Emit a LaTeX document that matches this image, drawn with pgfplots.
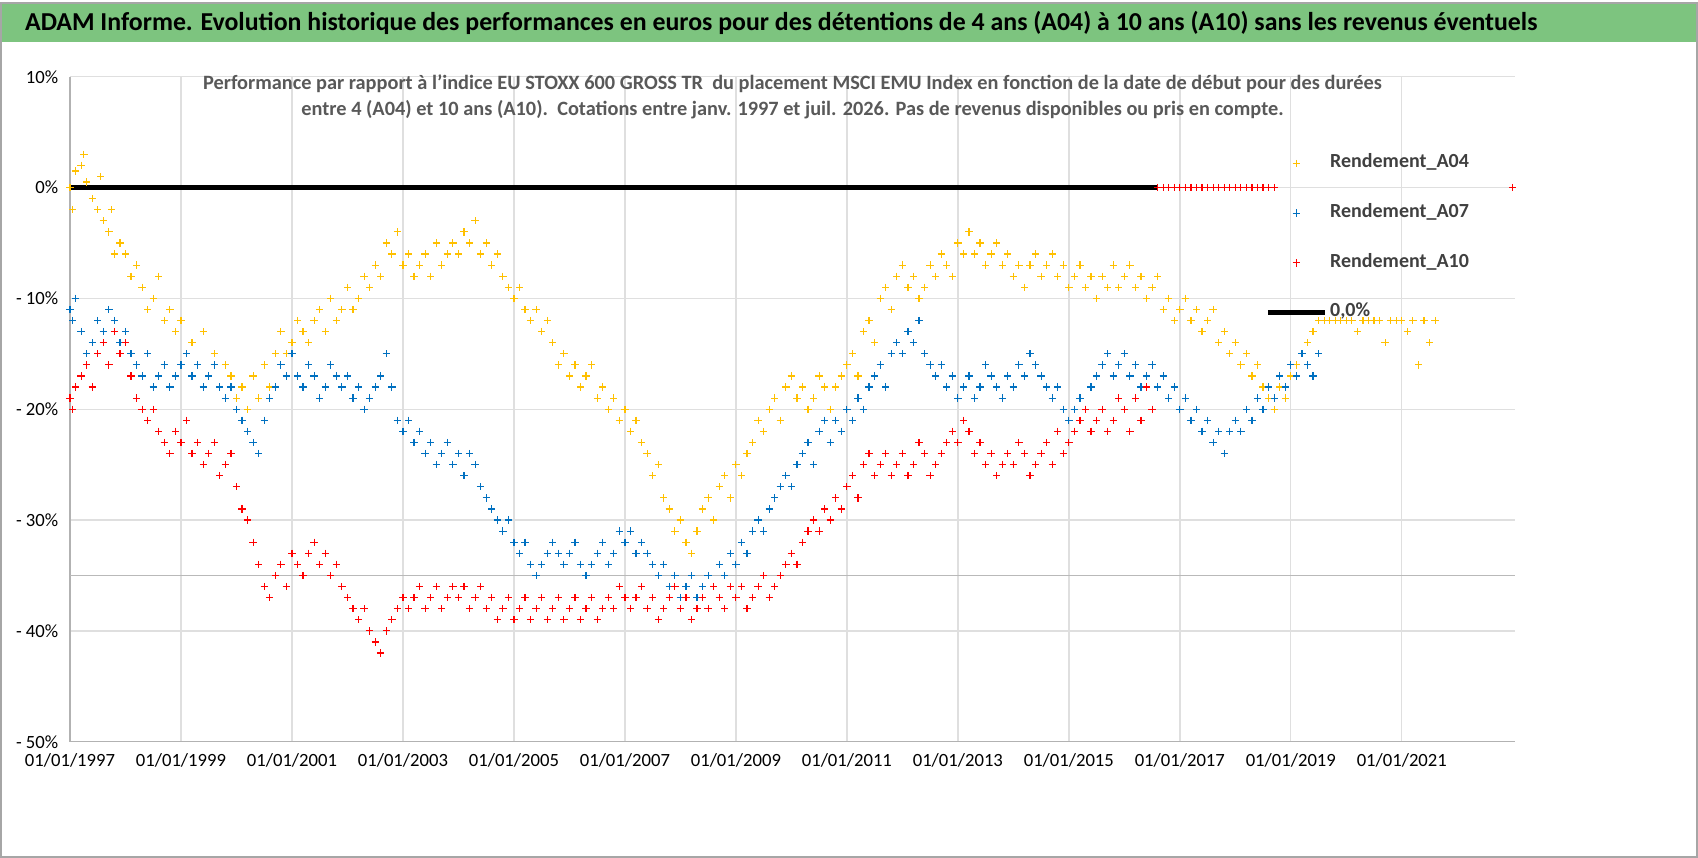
\documentclass[border=0pt]{standalone}
\usepackage{pgfplots}
\pgfplotsset{compat=1.18}
\usepackage{fontspec}
\setmainfont{Carlito}
\definecolor{cy}{HTML}{FFC000}
\definecolor{cb}{HTML}{0070C0}
\definecolor{cr}{HTML}{FF0000}
\definecolor{bar}{HTML}{7DC47F}
\begin{document}
\begin{tikzpicture}
\fill[white] (0pt,0pt) rectangle (509.4pt,256.8pt);
\draw[gray!70,line width=0.6pt] (0.3pt,0.3pt) rectangle (509.1pt,256.5pt);
\fill[bar] (0.6pt,244.8pt) rectangle (508.8pt,256.2pt);
\node[font=\fontsize{7.75}{9}\selectfont\bfseries,anchor=west] at (4pt,250.5pt) {ADAM Informe. Evolution historique des performances en euros pour des détentions de 4 ans (A04) à 10 ans (A10) sans les revenus éventuels};
\begin{axis}[at={(21pt,34.8pt)},anchor=south west,scale only axis,width=433.5pt,height=199.5pt,
 xmin=1997,xmax=2023.04,ymin=-50,ymax=10,
 axis line style={gray!60},
 axis x line*=bottom, axis y line*=left,
 tick style={draw=none},
 xtick={1997,1999,2001,2003,2005,2007,2009,2011,2013,2015,2017,2019,2021},
 xticklabels={01/01/1997,01/01/1999,01/01/2001,01/01/2003,01/01/2005,01/01/2007,01/01/2009,01/01/2011,01/01/2013,01/01/2015,01/01/2017,01/01/2019,01/01/2021},
 ytick={-50,-40,-30,-20,-10,0,10},
 yticklabels={- 50\%,- 40\%,- 30\%,- 20\%,- 10\%,0\%,10\%},
 ticklabel style={font=\fontsize{5.6}{6}\selectfont},
 /pgf/number format/assume math mode=true,
 grid=major, grid style={gray!25,line width=0.4pt},
 legend style={draw=none,fill=none,at={(0.82,0.905)},anchor=north west,font=\fontsize{6}{7}\selectfont\bfseries,row sep=5.2pt,text=black!75,nodes={inner xsep=1pt}},
 legend cell align=left,
 title style={at={(0.5,0.99)},anchor=north,font=\fontsize{6.1}{7.6}\selectfont\bfseries,text=black!65,align=center},
 title={Performance par rapport à l'indice EU STOXX 600 GROSS TR\ \ du placement MSCI EMU Index en fonction de la date de début pour des durées\\entre 4 (A04) et 10 ans (A10).\ \ Cotations entre janv. 1997 et juil. 2026. Pas de revenus disponibles ou pris en compte.},
 clip=false]
\draw[gray!55,line width=0.5pt] (axis cs:1997,-35) -- (axis cs:2023.04,-35);
\addplot[only marks,mark=+,mark size=1.1pt,color=cy,line width=0.35pt] coordinates {
(1997.0,0)(1997.05,-2)(1997.1,1.5)(1997.2,2)(1997.25,3)(1997.3,0.5)(1997.4,-1)(1997.5,-2)(1997.55,1)(1997.6,-3)(1997.7,-4)(1997.75,-2)(1997.8,-6)(1997.9,-5)(1998.0,-6)(1998.1,-8)(1998.2,-7)(1998.3,-9)(1998.4,-11)(1998.5,-10)(1998.6,-8)(1998.7,-12)(1998.8,-11)(1998.9,-13)(1999.0,-12)(1999.1,-15)(1999.2,-14)(1999.3,-16)(1999.4,-13)(1999.5,-17)(1999.6,-15)(1999.7,-18)(1999.8,-16)(1999.9,-17)(2000.0,-19)(2000.1,-18)(2000.2,-20)(2000.3,-17)(2000.4,-19)(2000.5,-16)(2000.6,-18)(2000.7,-15)(2000.8,-13)(2000.9,-15)(2001.0,-14)(2001.1,-12)(2001.2,-13)(2001.3,-14)(2001.4,-12)(2001.5,-11)(2001.6,-13)(2001.7,-10)(2001.8,-12)(2001.9,-11)(2002.0,-9)(2002.1,-11)(2002.2,-10)(2002.3,-8)(2002.4,-9)(2002.5,-7)(2002.6,-8)(2002.7,-5)(2002.8,-6)(2002.9,-4)(2003.0,-7)(2003.1,-6)(2003.2,-8)(2003.3,-7)(2003.4,-6)(2003.5,-8)(2003.6,-5)(2003.7,-7)(2003.8,-6)(2003.9,-5)(2004.0,-6)(2004.1,-4)(2004.2,-5)(2004.3,-3)(2004.4,-6)(2004.5,-5)(2004.6,-7)(2004.7,-6)(2004.8,-8)(2004.9,-9)(2005.0,-10)(2005.1,-9)(2005.2,-11)(2005.3,-12)(2005.4,-11)(2005.5,-13)(2005.6,-12)(2005.7,-14)(2005.8,-16)(2005.9,-15)(2006.0,-17)(2006.1,-16)(2006.2,-18)(2006.3,-17)(2006.4,-16)(2006.5,-19)(2006.6,-18)(2006.7,-20)(2006.8,-19)(2006.9,-21)(2007.0,-20)(2007.1,-22)(2007.2,-21)(2007.3,-23)(2007.4,-24)(2007.5,-26)(2007.6,-25)(2007.7,-28)(2007.8,-29)(2007.9,-31)(2008.0,-30)(2008.1,-32)(2008.2,-33)(2008.3,-31)(2008.4,-29)(2008.5,-28)(2008.6,-30)(2008.7,-27)(2008.8,-26)(2008.9,-28)(2009.0,-25)(2009.1,-26)(2009.2,-24)(2009.3,-23)(2009.4,-21)(2009.5,-22)(2009.6,-20)(2009.7,-19)(2009.8,-21)(2009.9,-18)(2010.0,-17)(2010.1,-19)(2010.2,-18)(2010.3,-20)(2010.4,-19)(2010.5,-17)(2010.6,-18)(2010.7,-20)(2010.8,-18)(2010.9,-17)(2011.0,-16)(2011.1,-15)(2011.2,-17)(2011.3,-13)(2011.4,-12)(2011.5,-14)(2011.6,-10)(2011.7,-9)(2011.8,-11)(2011.9,-8)(2012.0,-7)(2012.1,-9)(2012.2,-8)(2012.3,-10)(2012.4,-9)(2012.5,-7)(2012.6,-8)(2012.7,-6)(2012.8,-7)(2012.9,-8)(2013.0,-5)(2013.1,-6)(2013.2,-4)(2013.3,-6)(2013.4,-5)(2013.5,-7)(2013.6,-6)(2013.7,-5)(2013.8,-7)(2013.9,-6)(2014.0,-8)(2014.1,-7)(2014.2,-9)(2014.3,-7)(2014.4,-6)(2014.5,-8)(2014.6,-7)(2014.7,-6)(2014.8,-8)(2014.9,-7)(2015.0,-9)(2015.1,-8)(2015.2,-7)(2015.3,-9)(2015.4,-8)(2015.5,-10)(2015.6,-8)(2015.7,-9)(2015.8,-7)(2015.9,-9)(2016.0,-8)(2016.1,-7)(2016.2,-9)(2016.3,-8)(2016.4,-10)(2016.5,-9)(2016.6,-8)(2016.7,-11)(2016.8,-10)(2016.9,-12)(2017.0,-11)(2017.1,-10)(2017.2,-12)(2017.3,-11)(2017.4,-13)(2017.5,-12)(2017.6,-11)(2017.7,-14)(2017.8,-13)(2017.9,-15)(2018.0,-14)(2018.1,-16)(2018.2,-15)(2018.3,-17)(2018.4,-16)(2018.5,-18)(2018.6,-19)(2018.7,-20)(2018.8,-18)(2018.9,-19)(2019.0,-17)(2019.1,-16)(2019.2,-15)(2019.3,-14)(2019.4,-13)(2019.5,-12)(2019.6,-12)(2019.7,-12)(2019.8,-12)(2019.9,-12)(2020.0,-12)(2020.1,-12)(2020.2,-13)(2020.3,-12)(2020.4,-12)(2020.5,-12)(2020.6,-12)(2020.7,-14)(2020.8,-12)(2020.9,-12)(2021.0,-12)(2021.1,-13)(2021.2,-12)(2021.3,-16)(2021.4,-12)(2021.5,-14)(2021.6,-12)
};
\addlegendentry{Rendement\_A04}
\addplot[only marks,mark=+,mark size=1.1pt,color=cb,line width=0.35pt] coordinates {
(1997.0,-11)(1997.05,-12)(1997.1,-10)(1997.2,-13)(1997.3,-15)(1997.4,-14)(1997.5,-12)(1997.6,-13)(1997.7,-11)(1997.8,-12)(1997.9,-14)(1998.0,-13)(1998.1,-15)(1998.2,-16)(1998.3,-17)(1998.4,-15)(1998.5,-18)(1998.6,-17)(1998.7,-16)(1998.8,-18)(1998.9,-17)(1999.0,-16)(1999.1,-15)(1999.2,-17)(1999.3,-16)(1999.4,-18)(1999.5,-17)(1999.6,-16)(1999.7,-18)(1999.8,-19)(1999.9,-18)(2000.0,-20)(2000.1,-21)(2000.2,-22)(2000.3,-23)(2000.4,-24)(2000.5,-21)(2000.6,-19)(2000.7,-18)(2000.8,-16)(2000.9,-17)(2001.0,-15)(2001.1,-17)(2001.2,-18)(2001.3,-16)(2001.4,-17)(2001.5,-19)(2001.6,-18)(2001.7,-16)(2001.8,-17)(2001.9,-18)(2002.0,-17)(2002.1,-19)(2002.2,-18)(2002.3,-20)(2002.4,-19)(2002.5,-18)(2002.6,-17)(2002.7,-15)(2002.8,-18)(2002.9,-21)(2003.0,-22)(2003.1,-21)(2003.2,-23)(2003.3,-22)(2003.4,-24)(2003.5,-23)(2003.6,-25)(2003.7,-24)(2003.8,-23)(2003.9,-25)(2004.0,-24)(2004.1,-26)(2004.2,-24)(2004.3,-25)(2004.4,-27)(2004.5,-28)(2004.6,-29)(2004.7,-30)(2004.8,-31)(2004.9,-30)(2005.0,-32)(2005.1,-33)(2005.2,-32)(2005.3,-34)(2005.4,-35)(2005.5,-34)(2005.6,-33)(2005.7,-32)(2005.8,-33)(2005.9,-34)(2006.0,-33)(2006.1,-32)(2006.2,-34)(2006.3,-35)(2006.4,-34)(2006.5,-33)(2006.6,-32)(2006.7,-34)(2006.8,-33)(2006.9,-31)(2007.0,-32)(2007.1,-31)(2007.2,-33)(2007.3,-32)(2007.4,-33)(2007.5,-34)(2007.6,-35)(2007.7,-34)(2007.8,-36)(2007.9,-35)(2008.0,-37)(2008.1,-36)(2008.2,-35)(2008.3,-37)(2008.4,-36)(2008.5,-35)(2008.6,-36)(2008.7,-34)(2008.8,-35)(2008.9,-33)(2009.0,-34)(2009.1,-32)(2009.2,-33)(2009.3,-31)(2009.4,-30)(2009.5,-31)(2009.6,-29)(2009.7,-28)(2009.8,-27)(2009.9,-26)(2010.0,-27)(2010.1,-25)(2010.2,-24)(2010.3,-23)(2010.4,-25)(2010.5,-22)(2010.6,-21)(2010.7,-23)(2010.8,-21)(2010.9,-22)(2011.0,-20)(2011.1,-21)(2011.2,-19)(2011.3,-20)(2011.4,-18)(2011.5,-17)(2011.6,-16)(2011.7,-18)(2011.8,-15)(2011.9,-14)(2012.0,-15)(2012.1,-13)(2012.2,-14)(2012.3,-12)(2012.4,-15)(2012.5,-16)(2012.6,-17)(2012.7,-16)(2012.8,-18)(2012.9,-17)(2013.0,-19)(2013.1,-18)(2013.2,-17)(2013.3,-19)(2013.4,-18)(2013.5,-16)(2013.6,-17)(2013.7,-18)(2013.8,-19)(2013.9,-17)(2014.0,-18)(2014.1,-16)(2014.2,-17)(2014.3,-15)(2014.4,-16)(2014.5,-17)(2014.6,-18)(2014.7,-19)(2014.8,-18)(2014.9,-20)(2015.0,-21)(2015.1,-20)(2015.2,-19)(2015.3,-20)(2015.4,-18)(2015.5,-17)(2015.6,-16)(2015.7,-15)(2015.8,-17)(2015.9,-16)(2016.0,-15)(2016.1,-17)(2016.2,-16)(2016.3,-18)(2016.4,-17)(2016.5,-16)(2016.6,-18)(2016.7,-17)(2016.8,-19)(2016.9,-18)(2017.0,-20)(2017.1,-19)(2017.2,-21)(2017.3,-20)(2017.4,-22)(2017.5,-21)(2017.6,-23)(2017.7,-22)(2017.8,-24)(2017.9,-22)(2018.0,-21)(2018.1,-22)(2018.2,-20)(2018.3,-21)(2018.4,-19)(2018.5,-20)(2018.6,-18)(2018.7,-19)(2018.8,-17)(2018.9,-18)(2019.0,-16)(2019.1,-17)(2019.2,-15)(2019.3,-16)(2019.4,-17)(2019.5,-15)
};
\addlegendentry{Rendement\_A07}
\addplot[only marks,mark=+,mark size=1.1pt,color=cr,line width=0.35pt] coordinates {
(1997.0,-19)(1997.05,-20)(1997.1,-18)(1997.2,-17)(1997.3,-16)(1997.4,-18)(1997.5,-15)(1997.6,-14)(1997.7,-16)(1997.8,-13)(1997.9,-15)(1998.0,-14)(1998.1,-17)(1998.2,-19)(1998.3,-20)(1998.4,-21)(1998.5,-20)(1998.6,-22)(1998.7,-23)(1998.8,-24)(1998.9,-22)(1999.0,-23)(1999.1,-21)(1999.2,-24)(1999.3,-23)(1999.4,-25)(1999.5,-24)(1999.6,-23)(1999.7,-26)(1999.8,-25)(1999.9,-24)(2000.0,-27)(2000.1,-29)(2000.2,-30)(2000.3,-32)(2000.4,-34)(2000.5,-36)(2000.6,-37)(2000.7,-35)(2000.8,-34)(2000.9,-36)(2001.0,-33)(2001.1,-34)(2001.2,-35)(2001.3,-33)(2001.4,-32)(2001.5,-34)(2001.6,-33)(2001.7,-35)(2001.8,-34)(2001.9,-36)(2002.0,-37)(2002.1,-38)(2002.2,-39)(2002.3,-38)(2002.4,-40)(2002.5,-41)(2002.6,-42)(2002.7,-40)(2002.8,-39)(2002.9,-38)(2003.0,-37)(2003.1,-38)(2003.2,-37)(2003.3,-36)(2003.4,-38)(2003.5,-37)(2003.6,-36)(2003.7,-38)(2003.8,-37)(2003.9,-36)(2004.0,-37)(2004.1,-36)(2004.2,-38)(2004.3,-37)(2004.4,-36)(2004.5,-38)(2004.6,-37)(2004.7,-39)(2004.8,-38)(2004.9,-37)(2005.0,-39)(2005.1,-38)(2005.2,-37)(2005.3,-39)(2005.4,-38)(2005.5,-37)(2005.6,-39)(2005.7,-38)(2005.8,-37)(2005.9,-39)(2006.0,-38)(2006.1,-37)(2006.2,-39)(2006.3,-38)(2006.4,-37)(2006.5,-39)(2006.6,-38)(2006.7,-37)(2006.8,-38)(2006.9,-36)(2007.0,-37)(2007.1,-38)(2007.2,-37)(2007.3,-36)(2007.4,-38)(2007.5,-37)(2007.6,-39)(2007.7,-38)(2007.8,-37)(2007.9,-36)(2008.0,-38)(2008.1,-37)(2008.2,-39)(2008.3,-38)(2008.4,-37)(2008.5,-38)(2008.6,-36)(2008.7,-37)(2008.8,-38)(2008.9,-36)(2009.0,-37)(2009.1,-36)(2009.2,-38)(2009.3,-37)(2009.4,-36)(2009.5,-35)(2009.6,-37)(2009.7,-36)(2009.8,-35)(2009.9,-34)(2010.0,-33)(2010.1,-34)(2010.2,-32)(2010.3,-31)(2010.4,-30)(2010.5,-31)(2010.6,-29)(2010.7,-30)(2010.8,-28)(2010.9,-29)(2011.0,-27)(2011.1,-26)(2011.2,-28)(2011.3,-25)(2011.4,-24)(2011.5,-26)(2011.6,-25)(2011.7,-24)(2011.8,-26)(2011.9,-25)(2012.0,-24)(2012.1,-26)(2012.2,-25)(2012.3,-23)(2012.4,-24)(2012.5,-26)(2012.6,-25)(2012.7,-24)(2012.8,-23)(2012.9,-22)(2013.0,-23)(2013.1,-21)(2013.2,-22)(2013.3,-24)(2013.4,-23)(2013.5,-25)(2013.6,-24)(2013.7,-26)(2013.8,-25)(2013.9,-24)(2014.0,-25)(2014.1,-23)(2014.2,-24)(2014.3,-26)(2014.4,-25)(2014.5,-24)(2014.6,-23)(2014.7,-25)(2014.8,-22)(2014.9,-24)(2015.0,-23)(2015.1,-22)(2015.2,-21)(2015.3,-20)(2015.4,-22)(2015.5,-21)(2015.6,-20)(2015.7,-22)(2015.8,-21)(2015.9,-19)(2016.0,-20)(2016.1,-22)(2016.2,-19)(2016.3,-21)(2016.4,-18)(2016.5,-20)
(2016.6,0)(2016.7,0)(2016.8,0)(2016.9,0)(2017.0,0)(2017.1,0)(2017.2,0)(2017.3,0)(2017.4,0)(2017.5,0)(2017.6,0)(2017.7,0)(2017.8,0)(2017.9,0)(2018.0,0)(2018.1,0)(2018.2,0)(2018.3,0)(2018.4,0)(2018.5,0)(2018.6,0)(2018.7,0)(2023.0,0)
};
\addlegendentry{Rendement\_A10}
\addplot[black,line width=1.3pt] coordinates {(1997,0)(2016.6,0)};
\addlegendentry{0,0\%}
\end{axis}
\end{tikzpicture}
\end{document}
